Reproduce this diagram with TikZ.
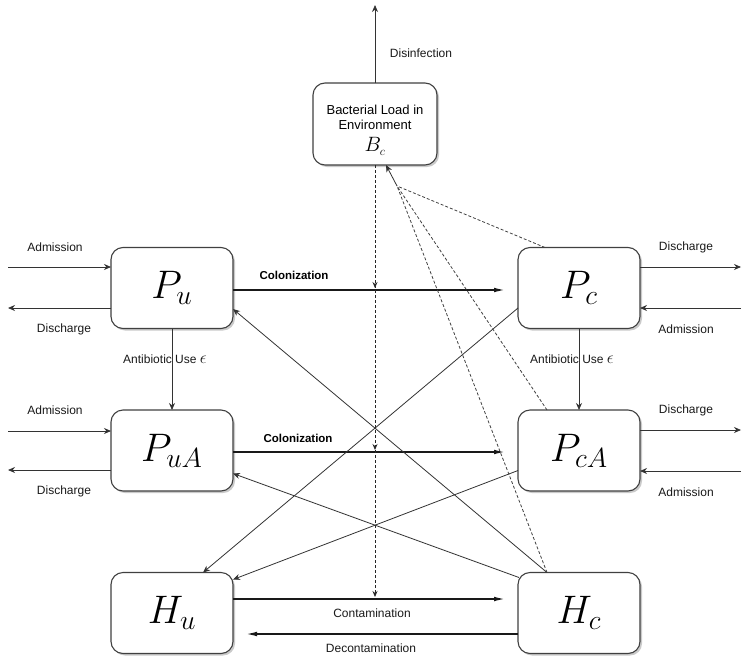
\documentclass[tikz,border=0pt]{standalone}
\usepackage{graphicx}
\usepackage{fontspec}
\setmainfont{Liberation Sans}
\usetikzlibrary{arrows.meta,calc,shadows}
\newcommand{\bigmath}[1]{\scalebox{1.6}{\Huge$#1$}}
\begin{document}
\begin{tikzpicture}[x=1pt,y=-1pt,
  box/.style={draw=black!75, line width=1.1pt, rounded corners=12pt, fill=white,
    minimum width=122pt, minimum height=81pt, inner sep=0pt, outer sep=0pt,
    drop shadow={shadow xshift=2pt, shadow yshift=-2pt, opacity=0.35, fill=black!60}},
  lbl/.style={font=\fontsize{12}{14}\selectfont, inner sep=0pt, text=black!90},
  blbl/.style={font=\bfseries\fontsize{11.5}{13}\selectfont, inner sep=0pt},
  arr/.style={-{Stealth[length=7pt,width=6pt]}, line width=0.8pt, draw=black!80},
  thickarr/.style={-{Latex[length=14pt,width=4.5pt]}, line width=2pt, draw=black!90},
  dasharr/.style={-{Stealth[length=6pt,width=5pt]}, line width=0.8pt, draw=black!85, dash pattern=on 3pt off 2pt},
  dline/.style={line width=0.8pt, draw=black!75, dash pattern=on 3pt off 2pt},
]
\useasboundingbox (0,0) rectangle (749,656);

% boxes
\node[box, minimum width=124pt, minimum height=82pt, align=center, font=\fontsize{13}{15}\selectfont] (Bc) at (375,124)
  {\rule{0pt}{22pt}Bacterial Load in\\ Environment\\[7pt] {\huge$B_{\scriptscriptstyle c}$}};
\node[box] (Pu)  at (172,288)   {\bigmath{P_{\scriptscriptstyle u}}};
\node[box] (PuA) at (172,450.5) {\bigmath{P_{\scriptscriptstyle uA}}};
\node[box] (Pc)  at (579,288)   {\bigmath{P_{\scriptscriptstyle c}}};
\node[box] (PcA) at (579,450.5) {\bigmath{P_{\scriptscriptstyle cA}}};
\node[box] (Hu)  at (172,613)   {\bigmath{H_{\scriptscriptstyle u}}};
\node[box] (Hc)  at (579,613)   {\bigmath{H_{\scriptscriptstyle c}}};

% disinfection
\coordinate (dis) at (375,5);
\draw[arr] (Bc.north) -- (dis);
\node[lbl] (ldis) at (421,53) {Disinfection};

% admission / discharge left
\coordinate (aPu) at (8,267);
\draw[arr] (aPu) -- (aPu -| Pu.west);
\node[lbl] (laPu) at (55,247) {Admission};
\coordinate (dPu) at (8,308);
\draw[arr] (dPu -| Pu.west) -- (dPu);
\node[lbl] (ldPu) at (64,329) {Discharge};
\coordinate (aPuA) at (8,431);
\draw[arr] (aPuA) -- (aPuA -| PuA.west);
\node[lbl] (laPuA) at (55,410) {Admission};
\coordinate (dPuA) at (8,470);
\draw[arr] (dPuA -| PuA.west) -- (dPuA);
\node[lbl] (ldPuA) at (64,491) {Discharge};

% admission / discharge right
\coordinate (dPc) at (741,267);
\draw[arr] (dPc -| Pc.east) -- (dPc);
\node[lbl] (ldPc) at (686,247) {Discharge};
\coordinate (aPc) at (741,308);
\draw[arr] (aPc) -- (aPc -| Pc.east);
\node[lbl] (laPc) at (686,329) {Admission};
\coordinate (dPcA) at (741,430);
\draw[arr] (dPcA -| PcA.east) -- (dPcA);
\node[lbl] (ldPcA) at (686,410) {Discharge};
\coordinate (aPcA) at (741,471);
\draw[arr] (aPcA) -- (aPcA -| PcA.east);
\node[lbl] (laPcA) at (686,492) {Admission};

% antibiotic use
\draw[arr] (Pu.south) -- (PuA.north);
\node[lbl] (abL) at (165,359) {Antibiotic Use {\LARGE$\epsilon$}};
\draw[arr] (Pc.south) -- (PcA.north);
\node[lbl] (abR) at (572,359) {Antibiotic Use {\LARGE$\epsilon$}};

% colonization etc.
\draw[thickarr, shorten >=10pt] ($(Pu.east)+(0,2)$) -- ($(Pc.west)+(0,2)$);
\node[blbl] (col1) at (294,275) {Colonization};
\draw[thickarr, shorten >=10pt] ($(PuA.east)+(0,1.5)$) -- ($(PcA.west)+(0,1.5)$);
\node[blbl] (col2) at (298,438) {Colonization};
\draw[thickarr, shorten >=10pt] ($(Hu.east)+(0,-14)$) -- ($(Hc.west)+(0,-14)$);
\node[lbl] (cont) at (372,613) {Contamination};
\draw[thickarr, shorten >=10pt] ($(Hc.west)+(0,21)$) -- ($(Hu.east)+(0,21)$);
\node[lbl] (decont) at (371,648) {Decontamination};

% cross connectors
\draw[arr] ($(Pc.west)+(0,20)$) -- ($(Hu.north)+(31,0)$);
\draw[arr] ($(PcA.west)+(0,20)$) -- ($(Hu.north east)+(0,7)$);
\draw[arr] ($(Hc.north west)+(29,0)$) -- ($(Pu.east)+(0,21)$);
\draw[arr] ($(Hc.north west)+(1,5)$) -- ($(PuA.east)+(0,23)$);

% bacterial load dashed arrows
\coordinate (c1) at (375,288);
\coordinate (c2) at (375,450);
\coordinate (c3) at (375,597);
\draw[dasharr] (Bc.south) -- (c3);
\draw[dasharr] (Bc.south) -- (c2);
\draw[dasharr] (Bc.south) -- (c1);

% shedding to environment
\coordinate (m) at (397,186);
\draw[dline] ($(Pc.north west)+(27,0)$) -- (m);
\draw[dline] ($(PcA.north west)+(29,0)$) -- (m);
\draw[dline] ($(Hc.north west)+(29,0)$) -- (m);
\draw[arr] (m) -- ($(Bc.south)+(11,0)$);
\end{tikzpicture}
\end{document}
